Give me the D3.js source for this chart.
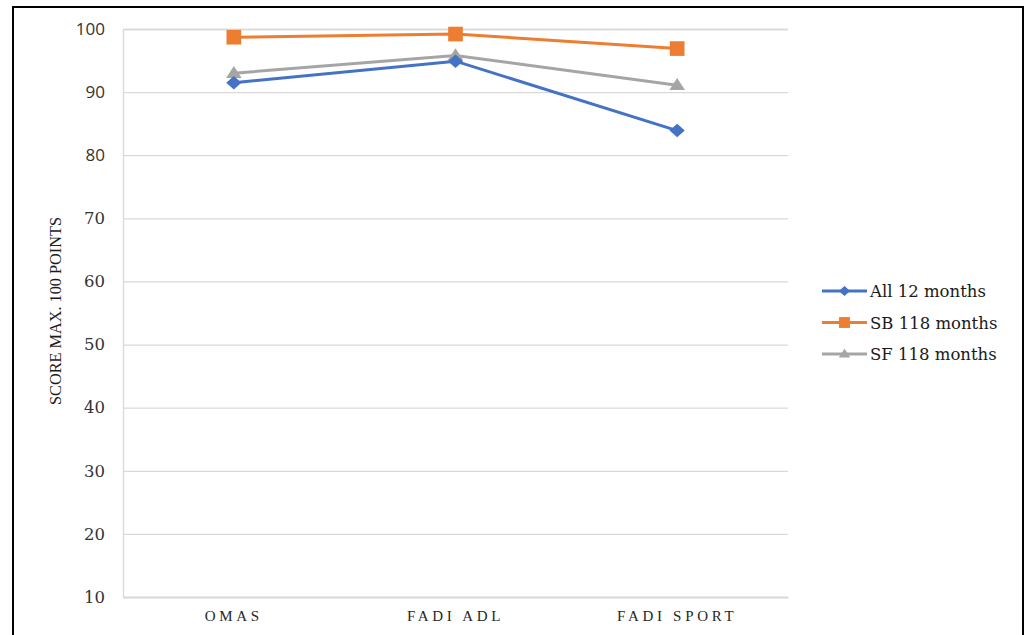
<!DOCTYPE html>
<html><head><meta charset="utf-8">
<script src="https://cdn.jsdelivr.net/npm/d3@7"></script>
<style>body{margin:0;background:#fff}svg{display:block}</style>
</head><body>
<script>
const categories = ["OMAS", "FADI ADL", "FADI SPORT"];
const seriesNames = ["All 12 months", "SB 118 months", "SF 118 months"];
const allValues = [91.5, 94.9, 83.9];
const sbValues = [98.7, 99.2, 96.9];
const sfValues = [93.0, 95.8, 91.1];
const yTicks = [10, 20, 30, 40, 50, 60, 70, 80, 90, 100];
const yTitle = "SCORE MAX. 100 POINTS";

const W = 1027, H = 635;
const svg = d3.select("body").append("svg").attr("width", W).attr("height", H);
svg.append("rect").attr("x", 13).attr("y", 7).attr("width", 1010).attr("height", 640)
  .attr("fill", "none").attr("stroke", "#000").attr("stroke-width", 2);

const x = d3.scaleBand().domain(categories).range([123, 788]);
const y = d3.scaleLinear().domain([10, 100]).range([597, 29]);

// gridlines
const grid = svg.append("g").attr("transform", "translate(123,0)")
  .call(d3.axisLeft(y).tickValues(yTicks).tickSize(-665).tickFormat(""));
grid.selectAll("line").attr("stroke", "#d9d9d9").attr("stroke-width", 1.3);
grid.select(".domain").attr("stroke", "#d9d9d9").attr("stroke-width", 1.3);

// y labels
const yl = svg.append("g").attr("transform", "translate(123,0)")
  .call(d3.axisLeft(y).tickValues(yTicks).tickSize(0).tickPadding(18));
yl.select(".domain").remove();
yl.selectAll("text")
  .attr("font-family", d => d >= 80 ? "Open Sans, sans-serif" : "DejaVu Serif, serif")
  .attr("font-size", d => d >= 80 ? 17 : 16.5).attr("fill", "#333");

// x axis
const xa = svg.append("g").attr("transform", "translate(0,597)")
  .call(d3.axisBottom(x).tickSize(0).tickPadding(13));
xa.select(".domain").attr("stroke", "#d9d9d9").attr("stroke-width", 1.5);
xa.selectAll("text").attr("font-family", "Liberation Serif, serif").attr("font-size", 15)
  .attr("letter-spacing", 3.7).attr("fill", "#262626");

// y title
svg.append("text").attr("transform", "translate(61,311) rotate(-90)")
  .attr("text-anchor", "middle").attr("font-family", "Liberation Serif, serif")
  .attr("font-size", 16).attr("fill", "#1a1a1a").attr("textLength", 188).attr("lengthAdjust", "spacingAndGlyphs")
  .text(yTitle);

const diamond = {draw(ctx, size) { const w = Math.sqrt(size) * 0.62, h = Math.sqrt(size) * 0.55;
  ctx.moveTo(0, -h); ctx.lineTo(w, 0); ctx.lineTo(0, h); ctx.lineTo(-w, 0); ctx.closePath(); }};
const tri = {draw(ctx, size) { const w = Math.sqrt(size) * 0.55, h = Math.sqrt(size) * 0.85;
  ctx.moveTo(0, -h * 0.6); ctx.lineTo(w, h * 0.4); ctx.lineTo(-w, h * 0.4); ctx.closePath(); }};

const series = [
  {name: seriesNames[0], values: allValues, color: "#4472C4", sym: diamond, size: 150},
  {name: seriesNames[1], values: sbValues, color: "#ED7D31", sym: d3.symbolSquare, size: 215},
  {name: seriesNames[2], values: sfValues, color: "#A5A5A5", sym: tri, size: 200}
];
const drawOrder = [2, 0, 1];
const line = d3.line().x((d, i) => x(categories[i]) + x.bandwidth() / 2).y(d => y(d));
drawOrder.forEach(k => {
  const s = series[k];
  svg.append("path").datum(s.values).attr("d", line).attr("fill", "none")
    .attr("stroke", s.color).attr("stroke-width", 3);
  svg.selectAll(null).data(s.values).enter().append("path")
    .attr("d", d3.symbol().type(s.sym).size(s.size))
    .attr("transform", (d, i) => `translate(${x(categories[i]) + x.bandwidth() / 2},${y(d)})`)
    .attr("fill", s.color);
});

// legend
series.forEach((s, i) => {
  const ly = 291 + i * 31.5;
  svg.append("line").attr("x1", 822).attr("x2", 867).attr("y1", ly).attr("y2", ly)
    .attr("stroke", s.color).attr("stroke-width", 3);
  svg.append("path").attr("d", d3.symbol().type(s.sym).size(s.size * 0.55))
    .attr("transform", `translate(844.5,${ly})`).attr("fill", s.color);
  svg.append("text").attr("x", 870).attr("y", ly + 6).attr("font-family", "DejaVu Serif, serif")
    .attr("font-size", 16.5).attr("fill", "#1a1a1a").text(s.name);
});
</script>
</body></html>
